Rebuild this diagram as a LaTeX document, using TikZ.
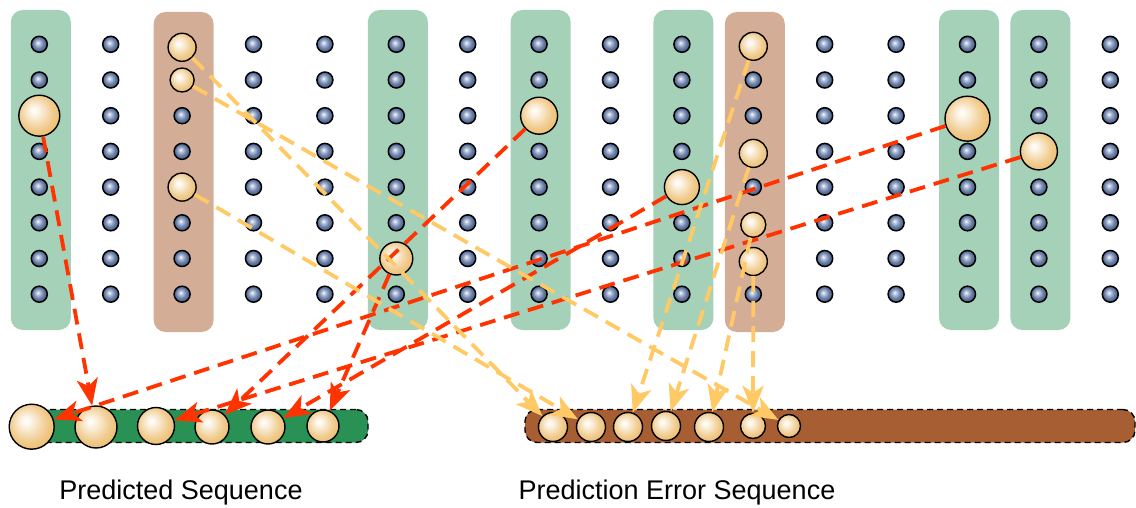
\documentclass[tikz,border=0pt]{standalone}
\usepackage{fontspec}
\setmainfont{Liberation Sans}
\usepackage{tikz}
\usetikzlibrary{arrows.meta,positioning,calc}

\definecolor{lightgreen}{RGB}{165,209,185}
\definecolor{lightbrown}{RGB}{212,173,151}
\definecolor{darkgreen}{RGB}{42,145,85}
\definecolor{darkbrown}{RGB}{166,94,50}
\definecolor{predred}{RGB}{255,51,0}
\definecolor{errorange}{RGB}{255,201,102}
\definecolor{beadcol}{RGB}{236,188,108}
\definecolor{unitcol}{RGB}{105,128,172}

\pgfdeclareradialshading{beadball}{\pgfqpoint{-7bp}{7bp}}{color(0bp)=(white); color(5bp)=(white!85!beadcol); color(20bp)=(beadcol!75!white); color(30bp)=(beadcol); color(50bp)=(beadcol)}
\pgfdeclareradialshading{unitball}{\pgfqpoint{-5bp}{5bp}}{color(0bp)=(white); color(5bp)=(unitcol!40!white); color(16bp)=(unitcol); color(26bp)=(unitcol!70!black); color(50bp)=(unitcol!70!black)}

\begin{document}
\begin{tikzpicture}[x=1pt,y=-1pt,
  colbar/.style={rectangle,rounded corners=12pt,minimum width=60pt,minimum height=320pt,inner sep=0pt},
  gridball/.style={circle,draw=black,line width=1.5pt,shading=unitball,minimum size=16pt,inner sep=0pt},
  bead/.style={circle,draw=black,line width=1.4pt,shading=beadball,inner sep=0pt,minimum size=#1},
  seqbar/.style={rectangle,rounded corners=12pt,draw=black,line width=1.4pt,dash pattern=on 6pt off 4pt,minimum height=33pt,inner sep=0pt},
  predarrow/.style={draw=predred,line width=3.8pt,dash pattern=on 16pt off 9pt,-{Stealth[length=27pt,width=21pt,inset=7pt]}},
  errarrow/.style={predarrow,draw=errorange},
  seqlabel/.style={font=\fontsize{27}{32}\selectfont,anchor=base}]
\useasboundingbox (0,0) rectangle (1136,508);

% Highlighted columns
\foreach \c in {1,6,8,10,14,15}
  \node[colbar,fill=lightgreen] (gcol-\c) at ({71.4*\c-30.6},170) {};
\foreach \c in {3,11}
  \node[colbar,fill=lightbrown] (bcol-\c) at ({71.4*\c-30.6},172) {};

% Grid of units
\foreach \c in {1,...,16}
  \foreach \r in {1,...,8}
    \node[gridball] (d-\c-\r) at ({71.4*\c-32.1},{35.7*\r+8.6}) {};

% Selected units (predicted)
\node[bead=41pt] (p1) at (d-1-3) {};
\node[bead=33pt] (p6) at (d-6-7) {};
\node[bead=37pt] (p8) at (d-8-3) {};
\node[bead=35pt] (p10) at (d-10-5) {};
\node[bead=45pt] (p14) at ($(d-14-3)+(0,3)$) {};
\node[bead=37pt] (p15) at (d-15-4) {};

% Selected units (prediction error)
\node[bead=28pt] (e3a) at ($(d-3-1)+(0,3)$) {};
\node[bead=24pt] (e3b) at (d-3-2) {};
\node[bead=28pt] (e3c) at (d-3-5) {};
\node[bead=28pt] (e11a) at ($(d-11-1)+(0,2)$) {};
\node[bead=28pt] (e11b) at ($(d-11-4)+(0,2)$) {};
\node[bead=25pt] (e11c) at ($(d-11-6)+(0,2)$) {};
\node[bead=28pt] (e11d) at ($(d-11-7)+(0,3)$) {};

% Sequences
\node[seqbar,fill=darkgreen,minimum width=356pt] (gseq) at (190,426) {};
\node[seqbar,fill=darkbrown,minimum width=610pt] (bseq) at (830,426) {};

\node[bead=45pt] (g1) at (31.7,426.7) {};
\node[bead=42pt] (g2) at (96,427) {};
\node[bead=37pt] (g3) at (156,426) {};
\node[bead=34pt] (g4) at (212,427) {};
\node[bead=34pt] (g5) at (268,427) {};
\node[bead=32pt] (g6) at (323,426) {};

\node[bead=29pt] (b1) at (553,427) {};
\node[bead=29pt] (b2) at (591,427) {};
\node[bead=29pt] (b3) at (628,427) {};
\node[bead=29pt] (b4) at (666,426) {};
\node[bead=29pt] (b5) at (709,427) {};
\node[bead=25pt] (b6) at (753,426) {};
\node[bead=23pt] (b7) at (789,426) {};

% Arrows
\draw[predarrow] (p1) -- (g2);
\draw[predarrow] (p14) -- (g1);
\draw[predarrow] (p15) -- (g3);
\draw[predarrow] (p8) -- (g4);
\draw[predarrow] (p10) -- (g5);
\draw[predarrow] (p6) -- (g6);

\draw[errarrow] (e3a) -- (b1);
\draw[errarrow] (e3c) -- (b2);
\draw[errarrow] (e3b) -- (b7);
\draw[errarrow] (e11a) -- (b3);
\draw[errarrow] (e11b) -- (b4);
\draw[errarrow] (e11c) -- (b5);
\draw[errarrow] (e11d) -- (b6);

% Labels
\node[seqlabel] (plabel) at (181,499) {Predicted Sequence};
\node[seqlabel] (elabel) at (677,499) {Prediction Error Sequence};
\end{tikzpicture}
\end{document}
